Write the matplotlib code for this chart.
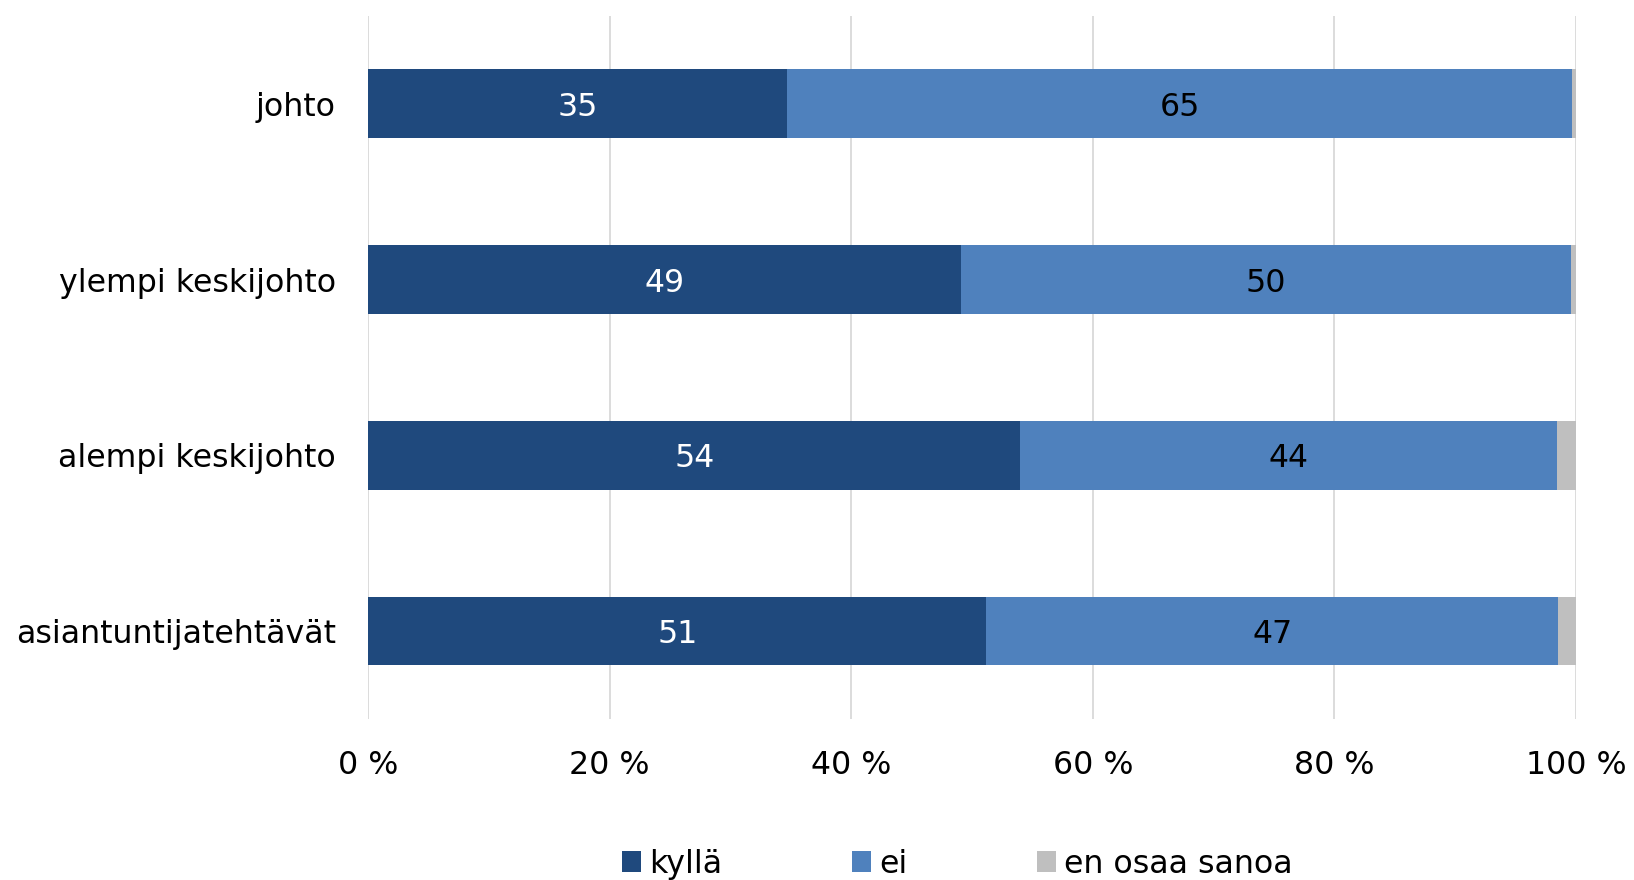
import matplotlib.pyplot as plt
import numpy as np

# data (percent)
groups = ['johto', 'ylempi keskijohto', 'alempi keskijohto', 'asiantuntijatehtävät']
kylla = [34.7, 49.1, 54.0, 51.2]
ei = [65.0, 50.5, 44.4, 47.3]
eos = [0.3, 0.4, 1.6, 1.5]
series_names = ['kyllä', 'ei', 'en osaa sanoa']
xticks = [0, 20, 40, 60, 80, 100]

colors = ['#1f497d', '#4f81bd', '#bfbfbf']
label_colors = ['white', 'black', None]

plt.rcParams['font.family'] = ['DejaVu Sans']
fs = 22.8

fig = plt.figure(figsize=(16.34, 8.80), dpi=100)
ax = fig.add_axes([0.2252, 0.183, 0.7393, 0.799])

y = np.arange(len(groups))
left = np.zeros(len(groups))
for vals, name, col, lcol in zip([kylla, ei, eos], series_names, colors, label_colors):
    vals = np.array(vals)
    ax.barh(y, vals, left=left, height=0.39, color=col, label=name,
            edgecolor='none')
    if lcol is not None:
        for yi, l, v in zip(y, left, vals):
            ax.text(l + v / 2, yi + 0.02, '%d' % round(v), ha='center', va='center',
                    color=lcol, fontsize=fs)
    left = left + vals

ax.set_xlim(0, 100)
ax.set_ylim(3.5, -0.5)
ax.set_yticks(y)
ax.set_yticklabels(groups, fontsize=fs)
ax.set_xticks(xticks)
ax.set_xticklabels(['%d %%' % t for t in xticks], fontsize=fs)
ax.tick_params(axis='both', length=0)
ax.tick_params(axis='y', pad=23)
ax.tick_params(axis='x', pad=22)
ax.xaxis.grid(True, color='#d9d9d9', linewidth=1.3)
ax.set_axisbelow(True)
for s in ax.spines.values():
    s.set_visible(False)

fig.legend(loc='lower center', bbox_to_anchor=(0.586, -0.032), ncol=3,
           frameon=False, fontsize=fs, handlelength=0.6, handleheight=0.6,
           handletextpad=0.25, columnspacing=4.1)

fig.savefig('out.png', dpi=100)
